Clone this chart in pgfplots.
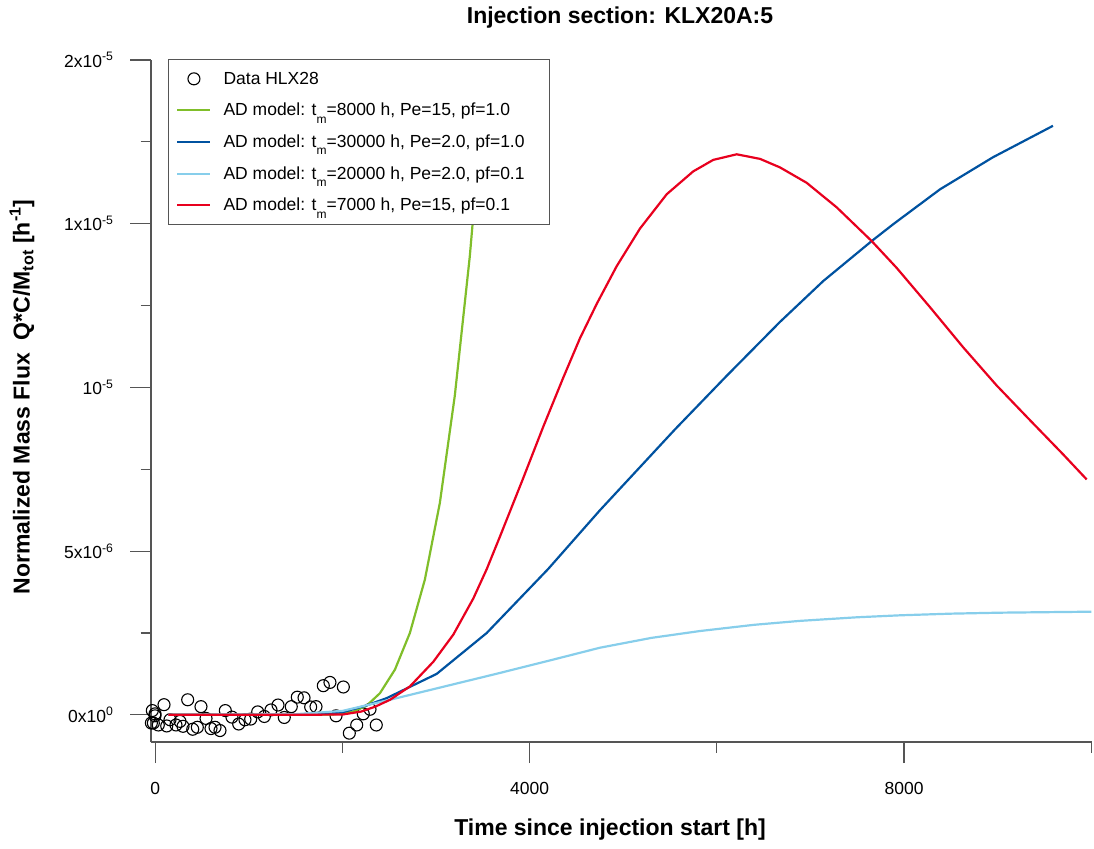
\documentclass[border=0pt]{standalone}
\usepackage{fontspec}
\setmainfont{Liberation Sans}
\usepackage{pgfplots}
\pgfplotsset{compat=1.18}
\definecolor{cgreen}{HTML}{80BE2A}
\definecolor{cblue}{HTML}{0052A0}
\definecolor{clight}{HTML}{87CEEB}
\definecolor{cred}{HTML}{E8001E}
\definecolor{axgray}{HTML}{555555}
\newcommand\lsub[1]{\raisebox{-0.42em}{\fontsize{12}{12}\selectfont #1}}
\pgfplotsset{
  linelegend/.style={legend image code/.code={\draw[##1, line width=2pt] (0pt,0pt) -- (33pt,0pt); \path (43pt,0pt);}},
  circlegend/.style={legend image code/.code={\draw[##1] plot coordinates {(16.5pt,0pt)}; \path (0pt,0pt) (43pt,0pt);}},
}
\begin{document}
\begin{tikzpicture}
\path[use as bounding box] (0,0) rectangle (1094pt,-848pt);
\begin{axis}[
  at={(151pt,-742pt)}, anchor=south west,
  scale only axis, width=941pt, height=682pt,
  xmin=-46, xmax=10008, ymin=-0.83e-6, ymax=2.0e-5,
  axis x line*=bottom, axis y line*=left,
  axis line style={axgray, line width=1.5pt, -},
  tick style={axgray, line width=1.2pt},
  tick align=outside,
  major tick length=21pt, minor tick length=10.5pt,
  xtick={0,4000,8000}, minor xtick={2000,6000,10000},
  xticklabels={0,4000,8000},
  ytick={0,5e-6,1e-5,1.5e-5,2e-5},
  minor ytick={2.5e-6,7.5e-6,1.25e-5,1.75e-5},
  yticklabels={0x10\textsuperscript{0},5x10\textsuperscript{-6},10\textsuperscript{-5},1x10\textsuperscript{-5},2x10\textsuperscript{-5}},
  ticklabel style={font=\fontsize{17.5}{20}\selectfont},
  xticklabel style={yshift=-16pt},
  yticklabel style={xshift=-13pt},
  scaled x ticks=false, scaled y ticks=false,
  clip mode=individual,
  legend style={at={(rel axis cs:0.018,1.0015)}, anchor=north west,
    draw=axgray, line width=1pt, fill=white,
    font=\fontsize{17.5}{20}\selectfont,
    row sep=13.5pt, inner xsep=8pt, inner ysep=10.5pt},
  legend cell align=left,
  linelegend,
]
\addplot[only marks, mark=o, mark size=6pt, black, line width=1.1pt, circlegend]
coordinates {
(-32,0.13e-6)(-3,0.03e-6)(-42,-0.25e-6)(-21,-0.25e-6)(-3,-0.03e-6)(32,-0.31e-6)(93,0.31e-6)
(122,-0.34e-6)(157,-0.15e-6)(221,-0.31e-6)(264,-0.20e-6)(346,0.46e-6)(296,-0.35e-6)
(400,-0.44e-6)(449,-0.38e-6)(488,0.25e-6)(542,-0.11e-6)(595,-0.42e-6)(638,-0.38e-6)
(691,-0.48e-6)(748,0.13e-6)(819,-0.07e-6)(891,-0.28e-6)(958,-0.15e-6)(1019,-0.13e-6)
(1094,0.09e-6)(1165,-0.05e-6)(1236,0.15e-6)(1311,0.30e-6)(1378,-0.08e-6)(1453,0.25e-6)
(1517,0.54e-6)(1589,0.52e-6)(1660,0.24e-6)(1717,0.25e-6)(1795,0.89e-6)(1866,0.99e-6)
(2009,0.85e-6)(1931,-0.03e-6)(2073,-0.56e-6)(2152,-0.31e-6)(2222,0.03e-6)(2294,0.17e-6)
(2361,-0.31e-6)
};
\addlegendentry{Data HLX28}
\addplot[cgreen, line width=2.2pt] coordinates {
(140,0)(1500,0)(1900,0.01e-6)(2115,0.1e-6)(2258,0.28e-6)(2400,0.66e-6)(2560,1.38e-6)
(2720,2.5e-6)(2880,4.13e-6)(3040,6.47e-6)(3200,9.75e-6)(3360,1.40e-5)(3520,1.93e-5)(3680,2.55e-5)
};
\addlegendentry{AD model: t\lsub{m}=8000 h, Pe=15, pf=1.0}
\addplot[cblue, line width=2.2pt] coordinates {
(140,0)(1000,0)(1800,0.03e-6)(2000,0.08e-6)(2250,0.28e-6)(2472,0.51e-6)(3006,1.25e-6)
(3541,2.5e-6)(4196,4.45e-6)(4751,6.25e-6)(5553,8.72e-6)(6100,10.34e-6)(6674,12.0e-6)
(7137,13.25e-6)(7654,14.47e-6)(7882,14.98e-6)(8384,16.05e-6)(8950,17.03e-6)(9591,17.99e-6)
};
\addlegendentry{AD model: t\lsub{m}=30000 h, Pe=2.0, pf=1.0\hspace*{15pt}}
\addplot[clight, line width=2.2pt] coordinates {
(140,0)(1500,0.02e-6)(2000,0.12e-6)(2579,0.51e-6)(3683,1.28e-6)(4200,1.65e-6)(4751,2.05e-6)
(5300,2.35e-6)(5820,2.56e-6)(6400,2.75e-6)(6890,2.87e-6)(7500,2.98e-6)(7960,3.04e-6)
(8500,3.09e-6)(9025,3.12e-6)(10000,3.15e-6)
};
\addlegendentry{AD model: t\lsub{m}=20000 h, Pe=2.0, pf=0.1}
\addplot[cred, line width=2.2pt] coordinates {
(140,0)(1500,0)(2000,0.01e-6)(2200,0.1e-6)(2350,0.25e-6)(2508,0.46e-6)(2721,0.87e-6)
(2970,1.62e-6)(3184,2.45e-6)(3397,3.55e-6)(3541,4.45e-6)(3683,5.45e-6)(3920,7.15e-6)(4145,8.8e-6)
(4359,10.3e-6)(4537,11.5e-6)(4716,12.55e-6)(4929,13.7e-6)(5178,14.85e-6)(5464,15.9e-6)
(5748,16.6e-6)(5962,16.95e-6)(6212,17.12e-6)(6461,16.98e-6)(6674,16.72e-6)(6959,16.25e-6)
(7280,15.5e-6)(7654,14.47e-6)(7921,13.65e-6)(8277,12.45e-6)(8633,11.22e-6)(8989,10.06e-6)
(9345,9.0e-6)(9701,7.95e-6)(9951,7.19e-6)
};
\addlegendentry{AD model: t\lsub{m}=7000 h, Pe=15, pf=0.1}
\end{axis}
\node[font=\bfseries\fontsize{23}{27}\selectfont] at (620pt,-18pt) {Injection section: KLX20A:5};
\node[font=\bfseries\fontsize{23}{27}\selectfont] at (610pt,-830pt) {Time since injection start [h]};
\node[rotate=90, font=\bfseries\fontsize{23}{27}\selectfont] at (22pt,-397pt) {Normalized Mass Flux\ \ Q*C/M\textsubscript{tot} [h\textsuperscript{-1}]};
\end{tikzpicture}
\end{document}
